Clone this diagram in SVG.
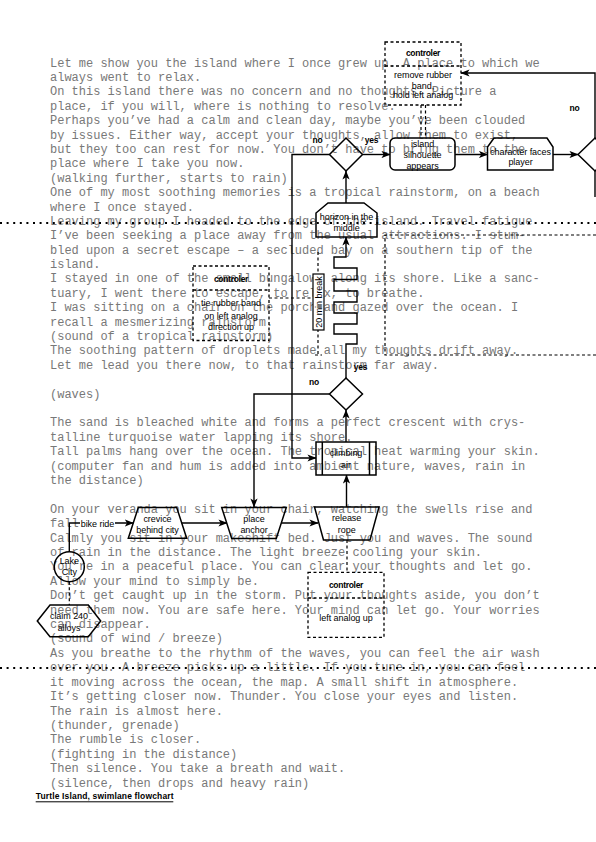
<svg xmlns="http://www.w3.org/2000/svg" width="596" height="842" viewBox="0 0 596 842">
<style>
.body{font-family:"Liberation Mono","Courier New",monospace;font-size:12px;fill:#787878}
.lbl{font-family:"Liberation Sans",Arial,sans-serif;font-size:9px;fill:#000;text-anchor:middle;letter-spacing:-0.05px}
.ttl{font-family:"Liberation Sans",Arial,sans-serif;font-size:8.5px;font-weight:bold;fill:#000;text-anchor:middle;letter-spacing:-0.3px}
.el{font-family:"Liberation Sans",Arial,sans-serif;font-size:8.5px;font-weight:bold;fill:#000;text-anchor:middle;letter-spacing:-0.2px}
.shape{fill:none;stroke:#000;stroke-width:1.5}
.ctrl{fill:none;stroke:#000;stroke-width:1.3;stroke-dasharray:3 2.5}
.edge{fill:none;stroke:#000;stroke-width:1.4}
.dash{fill:none;stroke:#000;stroke-width:1.2;stroke-dasharray:3 2.5}
.lane{stroke:#000;stroke-width:2.2;stroke-dasharray:2 4.6}
</style>
<defs>
<marker id="arr" viewBox="0 0 10 8" refX="9.5" refY="4" markerWidth="9" markerHeight="7.2" markerUnits="userSpaceOnUse" orient="auto">
<path d="M0,0 L10,4 L0,8 L2.5,4 z" fill="#000"/>
</marker>
</defs>
<rect width="596" height="842" fill="#fff"/>
<g id="text-body">
<text class="body" x="50" y="66.5">
<tspan x="50" dy="0">Let me show you the island where I once grew up. A place to which we</tspan>
<tspan x="50" dy="14.4">always went to relax.</tspan>
<tspan x="50" dy="14.4">On this island there was no concern and no thoughts. Picture a</tspan>
<tspan x="50" dy="14.4">place, if you will, where is nothing to resolve.</tspan>
<tspan x="50" dy="14.4">Perhaps you’ve had a calm and clean day, maybe you’ve been clouded</tspan>
<tspan x="50" dy="14.4">by issues. Either way, accept your thoughts, allow them to exist,</tspan>
<tspan x="50" dy="14.4">but they too can rest for now. You don’t have to bring them to the</tspan>
<tspan x="50" dy="14.4">place where I take you now.</tspan>
<tspan x="50" dy="14.4">(walking further, starts to rain)</tspan>
<tspan x="50" dy="14.4">One of my most soothing memories is a tropical rainstorm, on a beach</tspan>
<tspan x="50" dy="14.4">where I once stayed.</tspan>
<tspan x="50" dy="14.4">Leaving my group I headed to the edge of the island. Travel fatigue</tspan>
<tspan x="50" dy="14.4">I’ve been seeking a place away from the usual attractions. I stum-</tspan>
<tspan x="50" dy="14.4">bled upon a secret escape – a secluded bay on a southern tip of the</tspan>
<tspan x="50" dy="14.4">island.</tspan>
<tspan x="50" dy="14.4">I stayed in one of the small bungalows along its shore. Like a sanc-</tspan>
<tspan x="50" dy="14.4">tuary, I went there to escape, to relax, to breathe.</tspan>
<tspan x="50" dy="14.4">I was sitting on a chair on the porch and gazed over the ocean. I</tspan>
<tspan x="50" dy="14.4">recall a mesmerizing rainstorm.</tspan>
<tspan x="50" dy="14.4">(sound of a tropical rainstorm)</tspan>
<tspan x="50" dy="14.4">The soothing pattern of droplets made all my thoughts drift away.</tspan>
<tspan x="50" dy="14.4">Let me lead you there now, to that rainstorm far away.</tspan>
<tspan x="50" dy="28.8">(waves)</tspan>
<tspan x="50" dy="28.8">The sand is bleached white and forms a perfect crescent with crys-</tspan>
<tspan x="50" dy="14.4">talline turquoise water lapping its shore.</tspan>
<tspan x="50" dy="14.4">Tall palms hang over the ocean. The tropical heat warming your skin.</tspan>
<tspan x="50" dy="14.4">(computer fan and hum is added into ambient nature, waves, rain in</tspan>
<tspan x="50" dy="14.4">the distance)</tspan>
<tspan x="50" dy="28.8">On your veranda you sit in your chair, watching the swells rise and</tspan>
<tspan x="50" dy="14.4">fall.</tspan>
<tspan x="50" dy="14.4">Calmly you sit in your makeshift bed. Just you and waves. The sound</tspan>
<tspan x="50" dy="14.4">of rain in the distance. The light breeze cooling your skin.</tspan>
<tspan x="50" dy="14.4">You’re in a peaceful place. You can clear your thoughts and let go.</tspan>
<tspan x="50" dy="14.4">Allow your mind to simply be.</tspan>
<tspan x="50" dy="14.4">Don’t get caught up in the storm. Put your thoughts aside, you don’t</tspan>
<tspan x="50" dy="14.4">need them now. You are safe here. Your mind can let go. Your worries</tspan>
<tspan x="50" dy="14.4">can disappear.</tspan>
<tspan x="50" dy="14.4">(sound of wind / breeze)</tspan>
<tspan x="50" dy="14.4">As you breathe to the rhythm of the waves, you can feel the air wash</tspan>
<tspan x="50" dy="14.4">over you. A breeze picks up a little. If you tune in, you can feel</tspan>
<tspan x="50" dy="14.4">it moving across the ocean, the map. A small shift in atmosphere.</tspan>
<tspan x="50" dy="14.4">It’s getting closer now. Thunder. You close your eyes and listen.</tspan>
<tspan x="50" dy="14.4">The rain is almost here.</tspan>
<tspan x="50" dy="14.4">(thunder, grenade)</tspan>
<tspan x="50" dy="14.4">The rumble is closer.</tspan>
<tspan x="50" dy="14.4">(fighting in the distance)</tspan>
<tspan x="50" dy="14.4">Then silence. You take a breath and wait.</tspan>
<tspan x="50" dy="14.4">(silence, then drops and heavy rain)</tspan>
</text>
</g>
<g id="lanes">
<line class="lane" x1="0" y1="223" x2="596" y2="223"/>
<line class="lane" x1="0" y1="668" x2="596" y2="668"/>
<path class="dash" d="M596,235 H385 V355 H596"/>
</g>
<g id="connectors">
<path class="dash" d="M421,105 V138 M425.5,105 V138"/>
<path class="edge" d="M362.5,154.5 H390" marker-end="url(#arr)"/>
<path class="edge" d="M455,154.5 H487.5" marker-end="url(#arr)"/>
<path class="edge" d="M553,154.5 H578" marker-end="url(#arr)"/>
<path class="edge" d="M595,138 V73 H461" marker-end="url(#arr)"/>
<path class="edge" d="M595,171 V197"/>
<path class="edge" d="M329.5,154.5 H292 V458 H316" marker-end="url(#arr)"/>
<path class="edge" d="M346,203 V171" marker-end="url(#arr)"/>
<path class="edge" d="M346,378 V344 H357 V334 H334 V324 H357 V313 H334 V302 H357 V291 H334 V279.5 H357 V268 H334 V257 H346 V237" marker-end="url(#arr)"/>
<path class="dash" d="M318,252 V355 M315,355 H322"/>
<path class="dash" d="M269,298 H313"/>
<path class="edge" d="M329.5,394 H254 V507" marker-end="url(#arr)"/>
<path class="edge" d="M346,442 V410" marker-end="url(#arr)"/>
<path class="edge" d="M346.5,507 V475" marker-end="url(#arr)"/>
<path class="edge" d="M181.7,523 H227" marker-end="url(#arr)"/>
<path class="edge" d="M281.5,523 H318" marker-end="url(#arr)"/>
<path class="edge" d="M69.3,551.7 V523 H133.3" marker-end="url(#arr)"/>
<path class="dash" d="M69.3,581.7 V605"/>
<path class="dash" d="M347,540 V572"/>
<rect x="80" y="518" width="35" height="10" fill="#fff"/>
<text class="lbl" x="97.5" y="526.5">bike ride</text>
<text class="el" x="317.5" y="142.5">no</text>
<text class="el" x="371.5" y="142.5">yes</text>
<text class="el" x="574.5" y="111">no</text>
<text class="el" x="314" y="385">no</text>
<text class="el" x="360.5" y="370">yes</text>
<g id="label-20min">
<rect x="313" y="274" width="11" height="56" fill="#fff" stroke="#000" stroke-width="1.2"/>
<text class="lbl" x="0" y="0" transform="translate(321.6,302) rotate(-90)">20 min break</text>
</g>
</g>
<g id="ctrl-top">
<rect class="ctrl" x="385" y="42" width="76" height="63"/>
<line class="ctrl" x1="385" y1="66" x2="461" y2="66"/>
<text class="ttl" x="423" y="56">controler</text>
<text class="lbl" x="423" y="78">remove rubber</text>
<text class="lbl" x="423" y="89">band,</text>
<text class="lbl" x="423" y="98">hold left analog</text>
</g>
<g id="decision-1">
<polygon class="shape" points="346,138 362.5,154.5 346,171 329.5,154.5"/>
</g>
<g id="island-silhouette">
<rect class="shape" x="390" y="138" width="65" height="32" rx="5"/>
<text class="lbl" x="422.5" y="146.5">island</text>
<text class="lbl" x="422.5" y="158">silhouette</text>
<text class="lbl" x="422.5" y="168.5">appears</text>
</g>
<g id="character-faces">
<polygon class="shape" points="487.5,170 487.5,147 494,138 547,138 553,147 553,170"/>
<text class="lbl" x="520.5" y="155">character faces</text>
<text class="lbl" x="520.5" y="165">player</text>
</g>
<g id="decision-3">
<polygon class="shape" points="578,154.5 595,138 612,154.5 595,171"/>
</g>
<g id="horizon">
<polygon class="shape" points="316,237 316,213 328,203 364,203 377,213 377,237"/>
<text class="lbl" x="346.5" y="220">horizon in the</text>
<text class="lbl" x="346.5" y="231">middle</text>
</g>
<g id="ctrl-tie">
<rect class="ctrl" x="193" y="266" width="76" height="74.5"/>
<line class="ctrl" x1="193" y1="290" x2="269" y2="290"/>
<text class="ttl" x="231" y="281.5">controler</text>
<text class="lbl" x="231" y="306">tie rubber band</text>
<text class="lbl" x="231" y="319">on left analog</text>
<text class="lbl" x="231" y="330">direction up</text>
</g>
<g id="decision-2">
<polygon class="shape" points="346,378 362.5,394 346,410 329.5,394"/>
</g>
<g id="climbing-air">
<rect class="shape" x="316" y="442" width="60" height="33"/>
<line class="shape" x1="322.3" y1="442" x2="322.3" y2="475"/>
<line class="shape" x1="369.5" y1="442" x2="369.5" y2="475"/>
<text class="lbl" x="346" y="456">climbing</text>
<text class="lbl" x="346" y="467.5">air</text>
</g>
<g id="crevice">
<polygon class="shape" points="138.3,507.5 176.7,507.5 186.7,538.3 128.3,538.3"/>
<text class="lbl" x="157.5" y="521.5">crevice</text>
<text class="lbl" x="157.5" y="533">behind city</text>
</g>
<g id="place-anchor">
<polygon class="shape" points="221.7,507.5 286.3,507.5 276.3,538.5 231.7,538.5"/>
<text class="lbl" x="254" y="521.5">place</text>
<text class="lbl" x="254" y="533">anchor</text>
</g>
<g id="release-rope">
<polygon class="shape" points="314.5,507 379,507 370,540 323.5,540"/>
<text class="lbl" x="346.7" y="521">release</text>
<text class="lbl" x="346.7" y="532.5">rope</text>
</g>
<g id="lake-city">
<circle class="shape" cx="69.3" cy="566.7" r="15"/>
<text class="lbl" x="69.3" y="563.5">Lake</text>
<text class="lbl" x="69.3" y="574.5">City</text>
</g>
<g id="claim-alloys">
<polygon class="shape" points="37.3,621 50,605 88.3,605 100.7,621 88.3,636.7 50,636.7"/>
<text class="lbl" x="69" y="619">claim 240</text>
<text class="lbl" x="69" y="630.5">alloys</text>
</g>
<g id="ctrl-bottom">
<rect class="ctrl" x="308" y="572.3" width="76" height="65"/>
<line class="ctrl" x1="308" y1="598" x2="384" y2="598"/>
<text class="ttl" x="346" y="588">controler</text>
<text class="lbl" x="346" y="620.5">left analog up</text>
</g>
<g id="footer">
<text x="35.7" y="799" font-family="Liberation Sans, Arial, sans-serif" font-size="8.5" font-weight="bold" letter-spacing="-0.3" textLength="137.6">Turtle Island, swimlane flowchart</text>
<line x1="35.7" y1="801.8" x2="173.3" y2="801.8" stroke="#000" stroke-width="1"/>
</g>
</svg>
